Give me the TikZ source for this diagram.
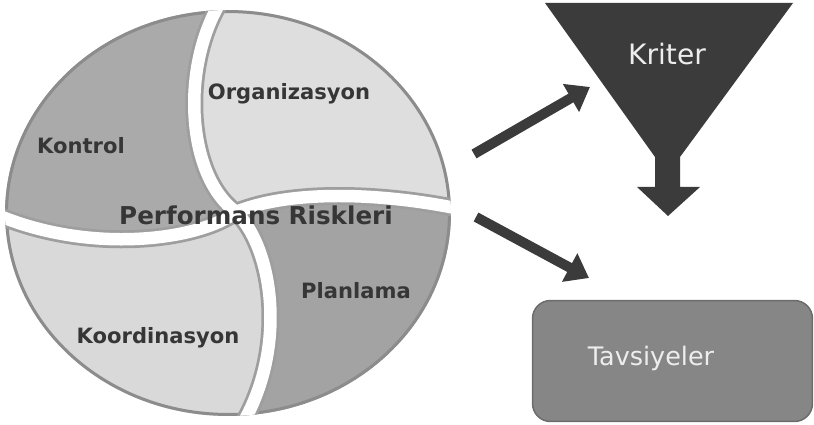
\documentclass[tikz,border=0pt]{standalone}
\usepackage{fontspec}
\setmainfont{DejaVu Sans}
\usetikzlibrary{arrows.meta}

\definecolor{pieceDark}{HTML}{AAAAAA}
\definecolor{pieceDarkB}{HTML}{A3A3A3}
\definecolor{pieceLight}{HTML}{DEDEDE}
\definecolor{pieceLightB}{HTML}{D9D9D9}
\definecolor{rimGray}{HTML}{8C8C8C}
\definecolor{gapEdge}{HTML}{9E9E9E}
\definecolor{labelGray}{HTML}{363636}
\definecolor{funnelGray}{HTML}{3B3B3B}
\definecolor{boxGray}{HTML}{868686}
\definecolor{boxEdge}{HTML}{6C6C6C}
\definecolor{boxText}{HTML}{EDEDED}

\begin{document}
\begin{tikzpicture}
      [
        x=0.02cm, y=-0.02cm,
        PieceLabel/.style={font=\bfseries\fontsize{12}{14}\selectfont, text=labelGray, anchor=base, inner sep=0pt},
        BoxLabel/.style={text=boxText, anchor=base, inner sep=0pt},
        BigArrow/.style={draw=funnelGray, line width=0.2cm, -{Triangle[length=0.44cm, width=0.62cm]}},
      ]
      \useasboundingbox (0,0) rectangle (814,425);

      % hub of the pinwheel and the far ends of its four arms
      \coordinate (hub) at (236,212);
      \coordinate (nEnd) at (225,-5);
      \coordinate (eEnd) at (465,210);
      \coordinate (sEnd) at (232,440);
      \coordinate (wEnd) at (-5,214);

      \begin{scope}
        \clip (228,213) ellipse [x radius=4.46cm, y radius=4.06cm];
        % four pieces
        \fill[pieceDark] (hub) .. controls (185,175) and (180,60) .. (nEnd) -- (-20,-20) -- (wEnd) .. controls (90,255) and (200,240) .. (hub) -- cycle;
        \fill[pieceLight] (hub) .. controls (185,175) and (180,60) .. (nEnd) -- (480,-20) -- (eEnd) .. controls (380,192) and (290,190) .. (hub) -- cycle;
        \fill[pieceDarkB] (hub) .. controls (290,190) and (380,192) .. (eEnd) -- (480,450) -- (sEnd) .. controls (290,360) and (275,250) .. (hub) -- cycle;
        \fill[pieceLightB] (hub) .. controls (275,250) and (290,360) .. (sEnd) -- (-20,450) -- (wEnd) .. controls (90,255) and (200,240) .. (hub) -- cycle;
        % rim
        \draw[rimGray, line width=0.12cm] (228,213) ellipse [x radius=4.46cm, y radius=4.06cm];
        % gaps between the pieces
        \foreach \col/\wd in {gapEdge/0.36cm, white/0.25cm}
          \draw[\col, line width=\wd, line cap=round]
            (nEnd) .. controls (180,60) and (185,175) .. (hub)
            (eEnd) .. controls (380,192) and (290,190) .. (hub)
            (sEnd) .. controls (290,360) and (275,250) .. (hub)
            (wEnd) .. controls (90,255) and (200,240) .. (hub);
      \end{scope}

      \node[PieceLabel] (kontrol) at (81,154) {Kontrol};
      \node[PieceLabel] (organizasyon) at (289,100) {Organizasyon};
      \node[PieceLabel] (planlama) at (356,298) {Planlama};
      \node[PieceLabel] (koordinasyon) at (158,343) {Koordinasyon};
      \node[PieceLabel, font=\bfseries\fontsize{14}{16}\selectfont] (risk) at (256,225) {Performans Riskleri};

      % funnel with its down arrow
      \fill[funnelGray] (545,3) -- (793,3) -- (680,157) -- (680,187) -- (700,187) -- (668,216)
        -- (637,187) -- (655,187) -- (655,157) -- cycle;
      \node[BoxLabel, font=\fontsize{16}{18}\selectfont] (kriter) at (667,65) {Kriter};

      \node[draw=boxEdge, fill=boxGray, line width=0.03cm, rounded corners=0.36cm,
        minimum width=5.6cm, minimum height=2.42cm] (tavsiyeBox) at (672.5,361) {};
      \node[BoxLabel, font=\fontsize{14.5}{17}\selectfont] (tavsiye) at (651,365) {Tavsiyeler};

      \coordinate (upTail) at (474,154);
      \coordinate (upTip) at (590,87);
      \coordinate (downTail) at (476,217);
      \coordinate (downTip) at (589,278);
      \draw[BigArrow] (upTail) -- (upTip);
      \draw[BigArrow] (downTail) -- (downTip);
    \end{tikzpicture}
\end{document}
